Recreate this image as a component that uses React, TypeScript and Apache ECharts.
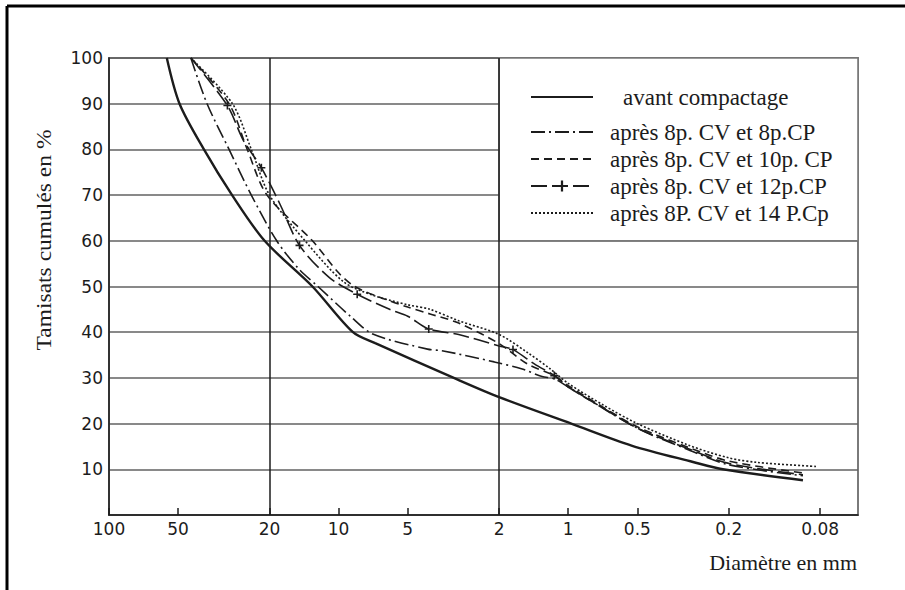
import React, { useEffect, useRef } from "react";
import * as echarts from "echarts";

// ---- axis ticks ----
const xTickLabels = [100, 50, 20, 10, 5, 2, 1, 0.5, 0.2, 0.08];
const verticalGridAt = [20, 2];

// ---- series names ----
const seriesNames = [
  "avant compactage",
  "après 8p. CV et 8p.CP",
  "après 8p. CV et 10p. CP",
  "après 8p. CV et 12p.CP",
  "après 8P. CV et 14 P.Cp",
];

// ---- data: diameter (mm) / cumulative passing (%) ----
const avantDiam = [56, 49.3, 38.6, 29.1, 21, 13, 8.66, 6.93, 3.15, 2, 0.97, 0.53, 0.286, 0.212, 0.095];
const avantPct = [100, 90, 80, 70, 60, 50, 40, 37.6, 30, 25.8, 20, 15.2, 11.6, 10, 7.6];

const cv8Diam = [44, 37.4, 30, 24, 18.6, 15, 12.3, 8.9, 7.1, 4.1, 3.5, 2.1, 1.6, 1.3, 1.15, 1, 0.5, 0.3, 0.2, 0.095];
const cv8Pct = [100, 90, 80, 70, 60, 54, 50, 43.5, 39.6, 36.3, 35.9, 33.5, 32, 30.3, 29.8, 28, 19, 14.3, 11, 8.6];

const cp10Diam = [44, 30, 25, 20.5, 13, 10, 8.5, 6.5, 5, 4, 3, 2, 1.5, 1.15, 1, 0.7, 0.5, 0.3, 0.2, 0.095];
const cp10Pct = [100, 90, 80, 70, 60, 53, 50, 47.5, 45.5, 44, 42, 37.5, 33, 30.5, 28.3, 23.5, 19.3, 14.8, 11.8, 9.2];

const cp12Diam = [44, 30.5, 26, 21.7, 18, 14.8, 11, 8.3, 6, 5, 4.05, 3, 2, 1.74, 1.4, 1.15, 1, 0.7, 0.5, 0.3, 0.2, 0.095];
const cp12Pct = [100, 89.6, 82, 76, 68, 59, 52, 48.3, 45, 43.5, 40.7, 39.5, 37, 36.2, 33, 30.5, 28, 23.3, 19, 14.5, 11.3, 8.8];
const cp12Markers = [30.5, 21.7, 14.8, 8.3, 4.05, 1.74, 1.15];

const cp14Diam = [44, 29, 24, 20, 14, 9.5, 7, 5, 4, 3, 2, 1.5, 1.2, 1, 0.7, 0.5, 0.3, 0.2, 0.15, 0.082];
const cp14Pct = [100, 90, 80, 70, 60, 51, 48, 46, 45, 42.5, 39.5, 35.5, 32, 28.8, 24, 20, 15.3, 12.5, 11.5, 10.6];

const INK = "#1c1c1c";
const GRID = "#626262";
const SERIF = "'Liberation Serif', 'DejaVu Serif', serif";
const SANS = "'DejaVu Sans', sans-serif";
const PLUS = "path://M4,0L6,0L6,4L10,4L10,6L6,6L6,10L4,10L4,6L0,6L0,4L4,4Z";

const pairs = (d: number[], p: number[]) => d.map((v, i) => [v, p[i]]);

export default function App() {
  const ref = useRef<HTMLDivElement>(null);

  useEffect(() => {
    if (!ref.current) return;
    const chart = echarts.init(ref.current, undefined, { renderer: "svg" });

    const gridLeft = 109;
    const gridTop = 58;
    const gridRight = 858;
    const gridBottom = 515;
    const pxPerDecade = 229.6;
    const x2 = gridLeft + (Math.log10(100) - Math.log10(2)) * pxPerDecade;
    const y60 = gridBottom - 0.6 * (gridBottom - gridTop);

    const lineBase = (name: string, data: any[], width: number, type: any) => ({
      name,
      type: "line",
      data,
      smooth: 0.3,
      symbol: "none",
      lineStyle: { color: INK, width, type },
      itemStyle: { color: INK },
      z: 3,
    });

    const legendText = (padLeft: number) => ({
      fontFamily: SERIF,
      fontSize: 23,
      color: INK,
      lineHeight: 24,
      padding: [0, 0, 0, padLeft],
    });

    const hiddenSymbol = { opacity: 0 };

    const option: any = {
      animation: false,
      backgroundColor: "#ffffff",
      grid: {
        left: gridLeft,
        top: gridTop,
        right: 905 - gridRight,
        bottom: 590 - gridBottom,
        show: true,
        borderColor: "#7a7a7a",
        borderWidth: 2,
        containLabel: false,
      },
      xAxis: {
        type: "log",
        logBase: 10,
        inverse: true,
        min: 0.0547,
        max: 100,
        axisLine: { show: true, lineStyle: { color: INK, width: 1.5 } },
        axisTick: {
          show: true,
          inside: true,
          length: 7,
          customValues: xTickLabels,
          lineStyle: { color: INK, width: 1.5 },
        },
        axisLabel: {
          customValues: xTickLabels,
          formatter: (v: number) => String(Number(v.toPrecision(6))),
          fontFamily: SANS,
          fontSize: 17,
          color: INK,
          margin: 5,
        },
        splitLine: { show: false },
        minorTick: { show: false },
      },
      yAxis: {
        type: "value",
        min: 0,
        max: 100,
        interval: 10,
        axisLine: { show: true, lineStyle: { color: INK, width: 1.5 } },
        axisTick: { show: false },
        axisLabel: {
          formatter: (v: number) => (v === 0 ? "" : String(v)),
          fontFamily: SANS,
          fontSize: 17,
          color: INK,
          margin: 6,
        },
        splitLine: { show: true, lineStyle: { color: GRID, width: 1.7 } },
      },
      legend: [
        {
          data: [{ name: seriesNames[0], itemStyle: hiddenSymbol }],
          orient: "vertical",
          left: 525,
          top: 80,
          itemWidth: 62,
          itemHeight: 14,
          itemGap: 3,
          textStyle: legendText(25),
          selectedMode: false,
          z: 6,
        },
        {
          data: [
            { name: seriesNames[1], itemStyle: hiddenSymbol },
            { name: seriesNames[2], itemStyle: hiddenSymbol },
            { name: seriesNames[3] },
            { name: seriesNames[4], itemStyle: hiddenSymbol },
          ],
          orient: "vertical",
          left: 525,
          top: 115,
          itemWidth: 62,
          itemHeight: 14,
          itemGap: 3,
          textStyle: legendText(12),
          selectedMode: false,
          z: 6,
        },
      ],
      graphic: [
        {
          type: "rect",
          z: 1,
          shape: { x: x2, y: gridTop, width: gridRight - x2, height: y60 - gridTop },
          style: { fill: "#ffffff", stroke: "#7a7a7a", lineWidth: 1.6 },
          silent: true,
        },
        {
          type: "line",
          z: 10,
          shape: { x1: 7, y1: 6, x2: 905, y2: 6 },
          style: { stroke: "#000", lineWidth: 3 },
          silent: true,
        },
        {
          type: "line",
          z: 10,
          shape: { x1: 7, y1: 6, x2: 7, y2: 590 },
          style: { stroke: "#000", lineWidth: 3 },
          silent: true,
        },
        {
          type: "text",
          x: 44,
          y: 240,
          rotation: Math.PI / 2,
          scaleX: 1.12,
          style: {
            text: "Tamisats cumulés en %",
            font: `21px ${SERIF}`,
            fill: INK,
            textAlign: "center",
            textVerticalAlign: "middle",
          },
        },
        {
          type: "text",
          x: 857,
          y: 562,
          style: {
            text: "Diamètre en mm",
            font: `22px ${SERIF}`,
            fill: INK,
            textAlign: "right",
            textVerticalAlign: "middle",
          },
        },
      ],
      series: [
        {
          ...lineBase(seriesNames[0], pairs(avantDiam, avantPct), 2.4, "solid"),
          markLine: {
            silent: true,
            symbol: "none",
            label: { show: false },
            lineStyle: { color: INK, width: 1.5, type: "solid" },
            data: verticalGridAt.map((v) => ({ xAxis: v })),
            z: 5,
          },
        },
        lineBase(seriesNames[1], pairs(cv8Diam, cv8Pct), 1.6, [14, 4, 2, 4]),
        lineBase(seriesNames[2], pairs(cp10Diam, cp10Pct), 1.6, [8, 5]),
        {
          ...lineBase(
            seriesNames[3],
            cp12Diam.map((d, i) =>
              cp12Markers.indexOf(d) >= 0
                ? { value: [d, cp12Pct[i]], symbol: PLUS, symbolSize: 8 }
                : { value: [d, cp12Pct[i]], symbol: "none" }
            ),
            1.6,
            [16, 5]
          ),
          symbol: PLUS,
          symbolSize: 8,
          showSymbol: true,
        },
        lineBase(seriesNames[4], pairs(cp14Diam, cp14Pct), 1.6, [2, 2]),
      ],
    };

    chart.setOption(option);
    return () => chart.dispose();
  }, []);

  return (
    <div
      ref={ref}
      style={{ position: "absolute", left: 0, top: 0, width: 905, height: 590, background: "#fff" }}
    />
  );
}
